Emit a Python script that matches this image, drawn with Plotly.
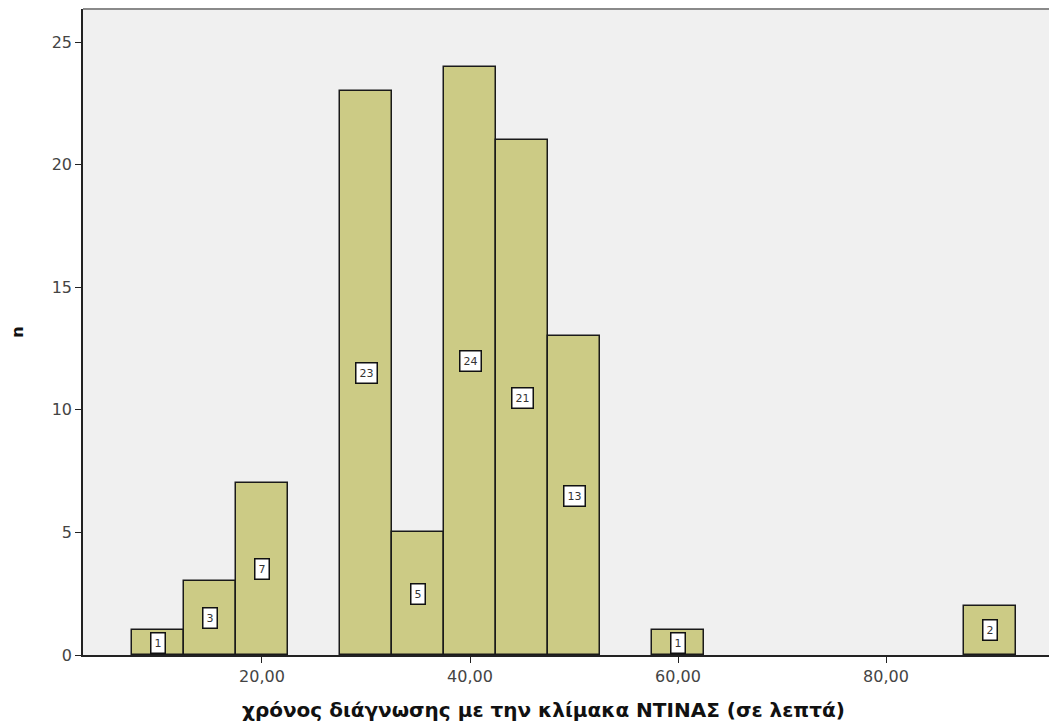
import plotly.graph_objects as go

bin_centers = [10, 15, 20, 30, 35, 40, 45, 50, 60, 90]
counts = [1, 3, 7, 23, 5, 24, 21, 13, 1, 2]
bin_width = 5
x_tick_vals = [20, 40, 60, 80]
x_tick_text = ["20,00", "40,00", "60,00", "80,00"]
y_tick_vals = [0, 5, 10, 15, 20, 25]
x_title = "χρόνος διάγνωσης με την κλίμακα ΝΤΙΝΑΣ (σε λεπτά)"

FONT = "DejaVu Sans, Liberation Sans, Arial, sans-serif"

fig = go.Figure()
fig.add_trace(go.Bar(
    x=bin_centers, y=counts, width=[bin_width] * len(bin_centers),
    marker=dict(color="#cccb85", line=dict(color="#1a1a1a", width=1.5)),
    hoverinfo="x+y", showlegend=False,
))

for xc, c in zip(bin_centers, counts):
    fig.add_annotation(
        x=xc, y=c / 2, text=str(c), showarrow=False,
        font=dict(family=FONT, size=11, color="#333"),
        bgcolor="white", bordercolor="#111", borderwidth=1.5, borderpad=3,
    )

fig.add_shape(type="line", xref="paper", yref="paper", x0=0, x1=1, y0=1, y1=1,
              line=dict(color="#8a8a8a", width=2))

# x-axis title, placed like the reference (slightly left of plot centre)
fig.add_annotation(
    xref="paper", yref="paper", x=0.473, y=-0.085, xanchor="center", yanchor="middle",
    text="<b>" + x_title + "</b>", showarrow=False,
    font=dict(family=FONT, size=20, color="#111"),
)

# page body has an 8px default margin; size/margins compensate so the plot
# area lands where the reference has it
fig.update_layout(
    width=1049, height=718,
    margin=dict(l=75, r=0, t=1, b=71),
    paper_bgcolor="white", plot_bgcolor="#f0f0f0",
    bargap=0,
    font=dict(family=FONT, color="#333"),
    xaxis=dict(
        range=[2.79, 96.44], tickvals=x_tick_vals, ticktext=x_tick_text,
        ticks="outside", ticklen=6, tickcolor="#222", showgrid=False, zeroline=False,
        showline=True, linecolor="#222", linewidth=1.5,
        tickfont=dict(family=FONT, size=16, color="#444"),
    ),
    yaxis=dict(
        range=[0, 26.35], tickvals=y_tick_vals,
        ticks="outside", ticklen=6, tickcolor="#222", showgrid=False, zeroline=False,
        showline=True, linecolor="#222", linewidth=1.5,
        tickfont=dict(family=FONT, size=16, color="#444"),
        title=dict(text="<b>n</b>", font=dict(family=FONT, size=16, color="#111"), standoff=24),
    ),
)

fig.write_html("out.html")
